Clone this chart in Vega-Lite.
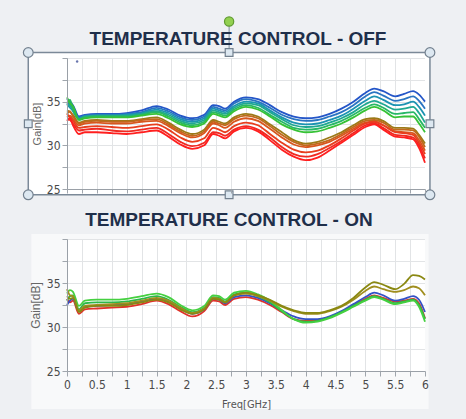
{
"$schema":"https://vega.github.io/schema/vega-lite/v6.json",
"background":"#eef0f3",
"padding":{"left":20,"top":13,"right":30,"bottom":9},
"spacing":7,
"resolve":{"scale":{"color":"independent"}},
"config":{"view":{"fill":"#ffffff","stroke":"#c6cbd1","strokeWidth":1},"font":"Liberation Sans"},
"datasets":{
"off":[
{"freq":0,"a":35.3,"b":35.0,"c":34.8,"d":34.5,"e":34.8,"f":35.5,"g":34.0,"h":33.6,"i":33.2,"j":33.6,"k":33.0,"l":32.8},
{"freq":0.05,"a":35.0,"b":34.6,"c":34.3,"d":34.6,"e":35.2,"f":34.8,"g":33.8,"h":33.9,"i":33.4,"j":33.2,"k":32.9,"l":33.1},
{"freq":0.1,"a":34.6,"b":34.2,"c":34.0,"d":33.9,"e":34.2,"f":34.5,"g":33.5,"h":33.3,"i":33.0,"j":32.8,"k":32.5,"l":32.3},
{"freq":0.2,"a":33.3,"b":33.2,"c":33.1,"d":33.0,"e":33.0,"f":32.9,"g":32.6,"h":32.5,"i":32.3,"j":32.0,"k":31.7,"l":31.3},
{"freq":0.3,"a":33.5,"b":33.4,"c":33.3,"d":33.3,"e":33.2,"f":33.1,"g":32.8,"h":32.7,"i":32.5,"j":32.1,"k":31.8,"l":31.5},
{"freq":0.5,"a":33.6,"b":33.5,"c":33.4,"d":33.4,"e":33.3,"f":33.2,"g":32.9,"h":32.8,"i":32.6,"j":32.2,"k":31.9,"l":31.5},
{"freq":0.75,"a":33.6,"b":33.5,"c":33.4,"d":33.4,"e":33.3,"f":33.2,"g":32.8,"h":32.7,"i":32.5,"j":32.1,"k":31.7,"l":31.4},
{"freq":1,"a":33.7,"b":33.6,"c":33.5,"d":33.4,"e":33.3,"f":33.2,"g":32.8,"h":32.7,"i":32.5,"j":32.0,"k":31.6,"l":31.3},
{"freq":1.25,"a":34.0,"b":33.8,"c":33.7,"d":33.6,"e":33.5,"f":33.4,"g":33.0,"h":32.9,"i":32.7,"j":32.2,"k":31.8,"l":31.5},
{"freq":1.5,"a":34.5,"b":34.3,"c":34.1,"d":33.9,"e":33.8,"f":33.6,"g":33.2,"h":33.0,"i":32.8,"j":32.4,"k":32.0,"l":31.7},
{"freq":1.7,"a":34.1,"b":33.9,"c":33.7,"d":33.5,"e":33.3,"f":33.1,"g":32.6,"h":32.4,"i":32.2,"j":31.8,"k":31.3,"l":31.0},
{"freq":1.9,"a":33.4,"b":33.2,"c":33.0,"d":32.8,"e":32.6,"f":32.4,"g":31.8,"h":31.6,"i":31.4,"j":30.9,"k":30.4,"l":30.1},
{"freq":2.1,"a":33.1,"b":32.9,"c":32.7,"d":32.5,"e":32.3,"f":32.1,"g":31.3,"h":31.1,"i":30.9,"j":30.4,"k":29.9,"l":29.6},
{"freq":2.3,"a":33.5,"b":33.3,"c":33.1,"d":32.9,"e":32.7,"f":32.5,"g":31.8,"h":31.6,"i":31.4,"j":30.8,"k":30.3,"l":30.0},
{"freq":2.45,"a":34.6,"b":34.4,"c":34.2,"d":34.0,"e":33.8,"f":33.6,"g":32.9,"h":32.7,"i":32.5,"j":32.0,"k":31.5,"l":31.3},
{"freq":2.55,"a":34.5,"b":34.2,"c":34.0,"d":33.8,"e":33.6,"f":33.4,"g":32.7,"h":32.5,"i":32.3,"j":31.8,"k":31.4,"l":31.1},
{"freq":2.65,"a":34.2,"b":34.0,"c":33.8,"d":33.6,"e":33.4,"f":33.2,"g":32.5,"h":32.3,"i":32.0,"j":31.5,"k":31.1,"l":30.8},
{"freq":2.8,"a":35.0,"b":34.8,"c":34.5,"d":34.3,"e":34.1,"f":33.9,"g":33.2,"h":33.0,"i":32.7,"j":32.2,"k":31.8,"l":31.6},
{"freq":3,"a":35.5,"b":35.3,"c":35.0,"d":34.8,"e":34.6,"f":34.4,"g":33.6,"h":33.4,"i":33.1,"j":32.6,"k":32.2,"l":32.0},
{"freq":3.2,"a":35.3,"b":35.0,"c":34.8,"d":34.6,"e":34.3,"f":34.1,"g":33.3,"h":33.1,"i":32.8,"j":32.3,"k":31.8,"l":31.6},
{"freq":3.4,"a":34.6,"b":34.3,"c":34.0,"d":33.8,"e":33.5,"f":33.3,"g":32.4,"h":32.2,"i":31.9,"j":31.3,"k":30.9,"l":30.6},
{"freq":3.6,"a":33.8,"b":33.5,"c":33.2,"d":33.0,"e":32.7,"f":32.4,"g":31.5,"h":31.2,"i":30.9,"j":30.3,"k":29.8,"l":29.5},
{"freq":3.8,"a":33.3,"b":33.0,"c":32.6,"d":32.3,"e":32.0,"f":31.8,"g":30.6,"h":30.4,"i":30.1,"j":29.5,"k":29.0,"l":28.7},
{"freq":4,"a":33.1,"b":32.8,"c":32.4,"d":32.1,"e":31.8,"f":31.5,"g":30.2,"h":30.0,"i":29.8,"j":29.2,"k":28.7,"l":28.3},
{"freq":4.2,"a":33.2,"b":32.9,"c":32.5,"d":32.2,"e":31.9,"f":31.6,"g":30.4,"h":30.2,"i":30.0,"j":29.4,"k":29.0,"l":28.6},
{"freq":4.4,"a":33.6,"b":33.3,"c":32.9,"d":32.6,"e":32.3,"f":32.0,"g":30.9,"h":30.6,"i":30.4,"j":30.0,"k":29.7,"l":29.4},
{"freq":4.6,"a":34.2,"b":33.8,"c":33.4,"d":33.1,"e":32.8,"f":32.5,"g":31.5,"h":31.3,"i":31.1,"j":30.8,"k":30.5,"l":30.3},
{"freq":4.8,"a":35.0,"b":34.6,"c":34.2,"d":33.8,"e":33.5,"f":33.2,"g":32.3,"h":32.1,"i":31.9,"j":31.7,"k":31.4,"l":31.2},
{"freq":5,"a":36.0,"b":35.6,"c":35.1,"d":34.7,"e":34.3,"f":34.0,"g":33.0,"h":32.8,"i":32.6,"j":32.5,"k":32.3,"l":32.1},
{"freq":5.15,"a":36.5,"b":36.1,"c":35.6,"d":35.1,"e":34.7,"f":34.4,"g":33.1,"h":32.9,"i":32.7,"j":32.7,"k":32.5,"l":32.4},
{"freq":5.3,"a":36.2,"b":35.7,"c":35.2,"d":34.7,"e":34.3,"f":34.0,"g":32.8,"h":32.6,"i":32.3,"j":32.3,"k":32.0,"l":31.8},
{"freq":5.5,"a":35.6,"b":35.1,"c":34.6,"d":34.1,"e":33.6,"f":33.2,"g":32.0,"h":31.8,"i":31.6,"j":31.5,"k":31.2,"l":31.0},
{"freq":5.65,"a":35.9,"b":35.3,"c":34.7,"d":34.2,"e":33.7,"f":33.3,"g":32.0,"h":31.8,"i":31.5,"j":31.4,"k":31.1,"l":30.9},
{"freq":5.8,"a":36.2,"b":35.6,"c":35.0,"d":34.4,"e":33.8,"f":33.3,"g":31.9,"h":31.7,"i":31.4,"j":31.2,"k":30.9,"l":30.7},
{"freq":5.9,"a":35.8,"b":35.1,"c":34.4,"d":33.7,"e":33.0,"f":32.5,"g":31.2,"h":31.0,"i":30.6,"j":30.3,"k":30.0,"l":29.7},
{"freq":6,"a":35.0,"b":34.2,"c":33.4,"d":32.6,"e":32.0,"f":31.5,"g":30.2,"h":29.8,"i":29.4,"j":29.0,"k":28.5,"l":28.0}
],
"on":[
{"freq":0,"r":33.2,"b":32.5,"g":33.0,"h":33.8,"o":34.3,"p":33.5},
{"freq":0.05,"r":32.8,"b":33.0,"g":33.5,"h":34.2,"o":33.6,"p":33.2},
{"freq":0.1,"r":33.0,"b":33.2,"g":33.6,"h":34.0,"o":33.5,"p":33.3},
{"freq":0.2,"r":31.5,"b":31.8,"g":32.0,"h":32.4,"o":31.9,"p":31.7},
{"freq":0.3,"r":32.0,"b":32.3,"g":32.7,"h":33.0,"o":32.4,"p":32.2},
{"freq":0.5,"r":32.1,"b":32.4,"g":32.8,"h":33.1,"o":32.5,"p":32.4},
{"freq":0.75,"r":32.2,"b":32.5,"g":32.8,"h":33.1,"o":32.6,"p":32.4},
{"freq":1,"r":32.3,"b":32.6,"g":32.9,"h":33.2,"o":32.7,"p":32.5},
{"freq":1.25,"r":32.6,"b":32.9,"g":33.2,"h":33.5,"o":33.0,"p":32.8},
{"freq":1.5,"r":33.0,"b":33.2,"g":33.5,"h":33.8,"o":33.3,"p":33.1},
{"freq":1.7,"r":32.6,"b":32.9,"g":33.1,"h":33.4,"o":33.0,"p":32.8},
{"freq":1.9,"r":31.8,"b":32.1,"g":32.3,"h":32.5,"o":32.2,"p":32.0},
{"freq":2.1,"r":31.2,"b":31.5,"g":31.7,"h":31.9,"o":31.6,"p":31.5},
{"freq":2.3,"r":31.8,"b":32.0,"g":32.2,"h":32.4,"o":32.1,"p":32.0},
{"freq":2.45,"r":33.0,"b":33.2,"g":33.4,"h":33.6,"o":33.3,"p":33.2},
{"freq":2.55,"r":32.9,"b":33.1,"g":33.3,"h":33.5,"o":33.2,"p":33.1},
{"freq":2.65,"r":32.5,"b":32.7,"g":32.9,"h":33.1,"o":32.8,"p":32.8},
{"freq":2.8,"r":33.2,"b":33.4,"g":33.7,"h":33.9,"o":33.6,"p":33.6},
{"freq":3,"r":33.4,"b":33.6,"g":33.9,"h":34.1,"o":33.8,"p":33.9},
{"freq":3.2,"r":33.1,"b":33.3,"g":33.5,"h":33.7,"o":33.5,"p":33.6},
{"freq":3.4,"r":32.5,"b":32.7,"g":32.8,"h":33.0,"o":33.0,"p":33.1},
{"freq":3.6,"r":31.7,"b":31.9,"g":31.8,"h":31.9,"o":32.3,"p":32.4},
{"freq":3.8,"r":30.9,"b":31.2,"g":30.9,"h":30.9,"o":31.8,"p":31.9},
{"freq":4,"r":30.7,"b":30.9,"g":30.6,"h":30.5,"o":31.5,"p":31.6},
{"freq":4.2,"r":30.8,"b":30.9,"g":30.7,"h":30.6,"o":31.5,"p":31.6},
{"freq":4.4,"r":31.1,"b":31.2,"g":31.1,"h":31.0,"o":31.8,"p":31.9},
{"freq":4.6,"r":31.7,"b":31.8,"g":31.7,"h":31.6,"o":32.3,"p":32.4},
{"freq":4.8,"r":32.5,"b":32.6,"g":32.4,"h":32.3,"o":33.1,"p":33.3},
{"freq":5,"r":33.2,"b":33.4,"g":33.1,"h":33.0,"o":34.1,"p":34.5},
{"freq":5.15,"r":33.6,"b":33.9,"g":33.5,"h":33.4,"o":34.6,"p":35.1},
{"freq":5.3,"r":33.3,"b":33.6,"g":33.2,"h":33.1,"o":34.3,"p":34.8},
{"freq":5.5,"r":32.9,"b":33.0,"g":32.7,"h":32.6,"o":34.0,"p":34.3},
{"freq":5.65,"r":33.0,"b":33.2,"g":32.9,"h":32.8,"o":34.2,"p":34.9},
{"freq":5.8,"r":33.2,"b":33.5,"g":33.1,"h":33.0,"o":34.6,"p":35.9},
{"freq":5.9,"r":32.7,"b":33.1,"g":32.5,"h":32.3,"o":34.4,"p":35.8},
{"freq":6,"r":31.0,"b":31.7,"g":30.9,"h":30.6,"o":33.6,"p":35.4}
]
},
"vconcat":[
{
"width":358,"height":131,
"title":{"text":"TEMPERATURE CONTROL - OFF","font":"Liberation Sans","fontSize":19,"fontWeight":"bold","color":"#1f2f4a","anchor":"middle","frame":"group","dx":-8,"offset":-50,"baseline":"alphabetic"},
"resolve":{"axis":{"x":"independent","y":"independent"}},
"layer":[
{
"data":{"values":[
{"x1":-0.649,"x2":0,"y1":24.34,"y2":40.63},
{"x1":6,"x2":6.083,"y1":24.34,"y2":40.63},
{"x1":0,"x2":6,"y1":40,"y2":40.63},
{"x1":0,"x2":6,"y1":24.34,"y2":25}
]},
"mark":{"type":"rect","fill":"#ffffff","strokeWidth":0},
"encoding":{
"x":{"field":"x1","type":"quantitative","scale":{"domain":[0,6],"nice":false,"zero":false},
"axis":{"orient":"bottom","values":[0,0.25,0.5,0.75,1,1.25,1.5,1.75,2,2.25,2.5,2.75,3,3.25,3.5,3.75,4,4.25,4.5,4.75,5,5.25,5.5,5.75,6],"labels":false,"ticks":true,"tickSize":4,"tickColor":"#a0a6ad","domain":true,"domainColor":"#9aa0a7","grid":false,"title":null,"zindex":1}},
"x2":{"field":"x2"},
"y":{"field":"y1","type":"quantitative","scale":{"domain":[25,40],"nice":false,"zero":false},
"axis":{"orient":"left","values":[25,27.5,30,32.5,35,37.5,40],"format":"~g","labelExpr":"datum.value % 5 === 0 && datum.value < 40 ? datum.label : ''","grid":false,"tickSize":5,"tickColor":"#a0a6ad","domain":true,"domainColor":"#9aa0a7","labelFont":"Liberation Sans Narrow, DejaVu Sans Condensed, sans-serif","labelFontSize":12,"labelColor":"#4a4a4a","labelPadding":2,"title":"Gain[dB]","titleFont":"Liberation Sans","titleFontSize":11,"titleFontWeight":"normal","titleColor":"#666666","titlePadding":4,"zindex":1}},
"y2":{"field":"y2"}
}
},
{
"data":{"name":"off"},
"transform":[{"fold":["a","b","c","d","e","f","g","h","i","j","k","l"],"as":["series","gain"]}],
"mark":{"type":"line","strokeWidth":1.8,"interpolate":"monotone"},
"encoding":{
"x":{"field":"freq","type":"quantitative","scale":{"domain":[0,6],"nice":false,"zero":false},
"axis":{"orient":"bottom","values":[0,0.25,0.5,0.75,1,1.25,1.5,1.75,2,2.25,2.5,2.75,3,3.25,3.5,3.75,4,4.25,4.5,4.75,5,5.25,5.5,5.75,6],"labels":false,"ticks":false,"domain":false,"grid":true,"gridColor":"#e2e4e6","title":null,"zindex":0}},
"y":{"field":"gain","type":"quantitative","scale":{"domain":[25,40],"nice":false,"zero":false},
"axis":{"orient":"left","values":[25,27.5,30,32.5,35,37.5,40],"labels":false,"ticks":false,"domain":false,"grid":true,"gridColor":"#e2e4e6","title":null,"zindex":0}},
"color":{"field":"series","type":"nominal","legend":null,
"scale":{"domain":["a","b","c","d","e","f","g","h","i","j","k","l"],"range":["#2456c8","#2a74c2","#1c93b2","#1fa892","#28b866","#36c236","#9c7a18","#c0691c","#d8561e","#e83e1e","#f02a22","#ff1f1f"]}}
}
},
{
"data":{"values":[{"x1":-0.649,"x2":6.083,"y1":24.34,"y2":40.63}]},
"mark":{"type":"rect","filled":false,"stroke":"#7b8998","strokeWidth":1.5},
"encoding":{
"x":{"field":"x1","type":"quantitative","scale":{"domain":[0,6],"nice":false,"zero":false},"axis":null},
"x2":{"field":"x2"},
"y":{"field":"y1","type":"quantitative","scale":{"domain":[25,40],"nice":false,"zero":false},"axis":null},
"y2":{"field":"y2"}
}
},
{
"data":{"values":[{"x":2.717,"y1":40.63,"y2":44.18}]},
"mark":{"type":"rule","stroke":"#7b8998","strokeWidth":1},
"encoding":{
"x":{"field":"x","type":"quantitative","scale":{"domain":[0,6],"nice":false,"zero":false},"axis":null},
"y":{"field":"y1","type":"quantitative","scale":{"domain":[25,40],"nice":false,"zero":false},"axis":null},
"y2":{"field":"y2"}
}
},
{
"data":{"values":[{"freq":0.17,"gain":39.6}]},
"mark":{"type":"point","filled":true,"color":"#2a3a8a","size":6},
"encoding":{
"x":{"field":"freq","type":"quantitative","scale":{"domain":[0,6],"nice":false,"zero":false},"axis":null},
"y":{"field":"gain","type":"quantitative","scale":{"domain":[25,40],"nice":false,"zero":false},"axis":null}
}
},
{
"data":{"values":[{"x":-0.649,"y":40.63},{"x":6.083,"y":40.63},{"x":-0.649,"y":24.34},{"x":6.083,"y":24.34}]},
"mark":{"type":"point","shape":"circle","filled":true,"fill":"#dde8f1","stroke":"#73818f","strokeWidth":1.2,"size":95,"opacity":1},
"encoding":{
"x":{"field":"x","type":"quantitative","scale":{"domain":[0,6],"nice":false,"zero":false},"axis":null},
"y":{"field":"y","type":"quantitative","scale":{"domain":[25,40],"nice":false,"zero":false},"axis":null}
}
},
{
"data":{"values":[{"x":2.717,"y":40.63},{"x":2.717,"y":24.34},{"x":-0.649,"y":32.48},{"x":6.083,"y":32.48}]},
"mark":{"type":"point","shape":"square","filled":true,"fill":"#dde8f1","stroke":"#73818f","strokeWidth":1.2,"size":60,"opacity":1},
"encoding":{
"x":{"field":"x","type":"quantitative","scale":{"domain":[0,6],"nice":false,"zero":false},"axis":null},
"y":{"field":"y","type":"quantitative","scale":{"domain":[25,40],"nice":false,"zero":false},"axis":null}
}
},
{
"data":{"values":[{"x":2.717,"y":44.18}]},
"mark":{"type":"point","shape":"circle","filled":true,"fill":"#92d050","stroke":"#5f9b2f","strokeWidth":1.2,"size":85,"opacity":1},
"encoding":{
"x":{"field":"x","type":"quantitative","scale":{"domain":[0,6],"nice":false,"zero":false},"axis":null},
"y":{"field":"y","type":"quantitative","scale":{"domain":[25,40],"nice":false,"zero":false},"axis":null}
}
}
]
},
{
"width":358,"height":132,
"title":{"text":"TEMPERATURE CONTROL - ON","font":"Liberation Sans","fontSize":19,"fontWeight":"bold","color":"#1f2f4a","anchor":"middle","frame":"group","dx":-17,"offset":-11,"baseline":"alphabetic"},
"resolve":{"axis":{"x":"independent","y":"independent"}},
"layer":[
{
"data":{"values":[
{"x1":-0.597,"x2":0,"y1":20.68,"y2":40.57},
{"x1":6,"x2":6.06,"y1":20.68,"y2":40.57},
{"x1":0,"x2":6,"y1":40,"y2":40.57},
{"x1":0,"x2":6,"y1":20.68,"y2":25}
]},
"mark":{"type":"rect","fill":"#f8f9fa","strokeWidth":0},
"encoding":{
"x":{"field":"x1","type":"quantitative","scale":{"domain":[0,6],"nice":false,"zero":false},
"axis":{"orient":"bottom","values":[0,0.25,0.5,0.75,1,1.25,1.5,1.75,2,2.25,2.5,2.75,3,3.25,3.5,3.75,4,4.25,4.5,4.75,5,5.25,5.5,5.75,6],"format":"~g","labelExpr":"(datum.value * 2) % 1 === 0 ? datum.label : ''","labels":true,"ticks":true,"tickSize":5,"tickColor":"#a0a6ad","domain":true,"domainColor":"#9aa0a7","grid":false,"labelFont":"Liberation Sans Narrow, DejaVu Sans Condensed, sans-serif","labelFontSize":12,"labelColor":"#4a4a4a","labelPadding":3,"labelFlush":false,"title":"Freq[GHz]","titleFont":"Liberation Sans Narrow, DejaVu Sans Condensed, sans-serif","titleFontSize":11,"titleFontWeight":"normal","titleColor":"#555555","titlePadding":8,"zindex":1}},
"x2":{"field":"x2"},
"y":{"field":"y1","type":"quantitative","scale":{"domain":[25,40],"nice":false,"zero":false},
"axis":{"orient":"left","values":[25,27.5,30,32.5,35,37.5,40],"format":"~g","labelExpr":"datum.value % 5 === 0 && datum.value < 40 ? datum.label : ''","grid":false,"tickSize":5,"tickColor":"#a0a6ad","domain":true,"domainColor":"#9aa0a7","labelFont":"Liberation Sans Narrow, DejaVu Sans Condensed, sans-serif","labelFontSize":12,"labelColor":"#4a4a4a","labelPadding":2,"title":"Gain[dB]","titleFont":"Liberation Sans","titleFontSize":12,"titleFontWeight":"normal","titleColor":"#666666","titlePadding":4,"zindex":1}},
"y2":{"field":"y2"}
}
},
{
"data":{"name":"on"},
"transform":[{"fold":["r","b","g","h","o","p"],"as":["series","gain"]}],
"mark":{"type":"line","strokeWidth":1.8,"interpolate":"monotone"},
"encoding":{
"x":{"field":"freq","type":"quantitative","scale":{"domain":[0,6],"nice":false,"zero":false},
"axis":{"orient":"bottom","values":[0,0.25,0.5,0.75,1,1.25,1.5,1.75,2,2.25,2.5,2.75,3,3.25,3.5,3.75,4,4.25,4.5,4.75,5,5.25,5.5,5.75,6],"labels":false,"ticks":false,"domain":false,"grid":true,"gridColor":"#e2e4e6","title":null,"zindex":0}},
"y":{"field":"gain","type":"quantitative","scale":{"domain":[25,40],"nice":false,"zero":false},
"axis":{"orient":"left","values":[25,27.5,30,32.5,35,37.5,40],"labels":false,"ticks":false,"domain":false,"grid":true,"gridColor":"#e2e4e6","title":null,"zindex":0}},
"color":{"field":"series","type":"nominal","legend":null,
"scale":{"domain":["r","b","g","h","o","p"],"range":["#e0322a","#3451c6","#2cb84a","#45d040","#a08e1e","#8a8812"]}}
}
}
]
}
]
}
